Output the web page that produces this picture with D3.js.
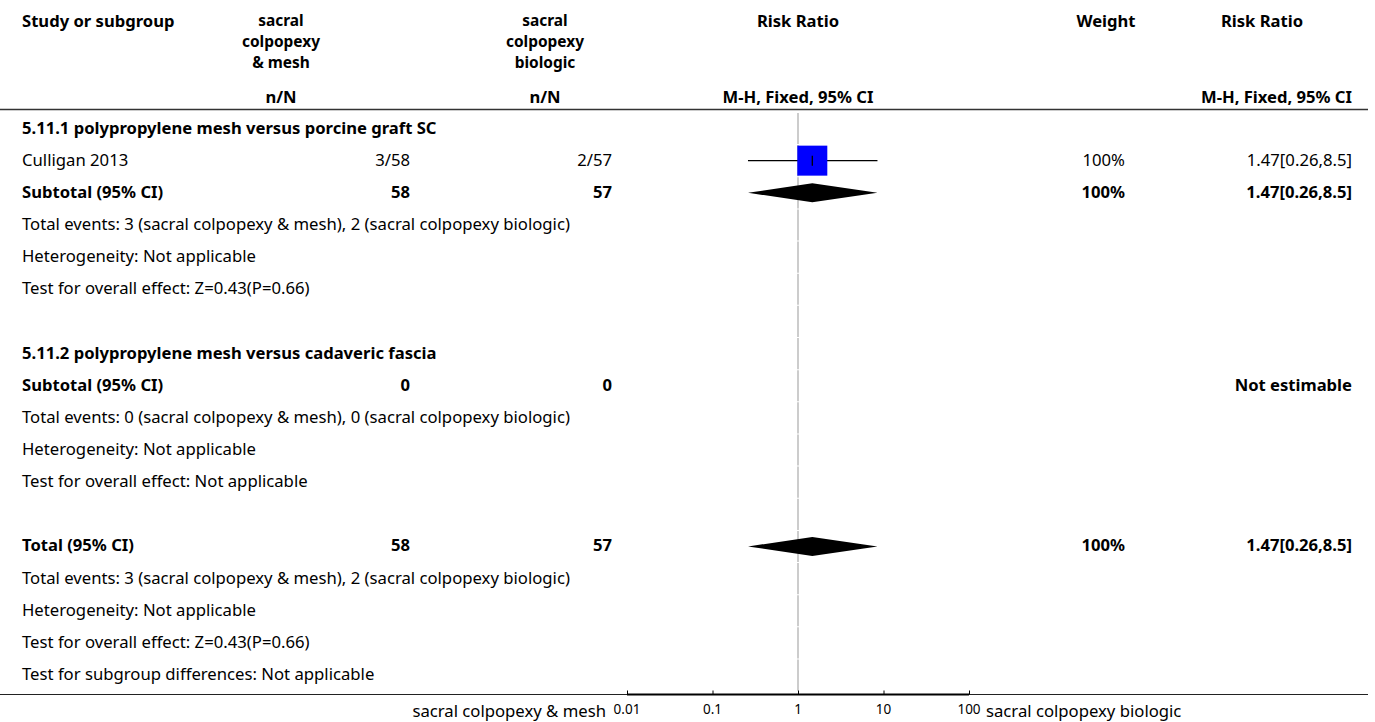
<!DOCTYPE html>
<html>
<head>
<meta charset="utf-8">
<script src="https://cdn.jsdelivr.net/npm/d3@7"></script>
<style>
  html, body { margin: 0; padding: 0; background: #fff; }
  svg { display: block; }
  text { font-family: "Noto Sans", Lato, sans-serif; fill: #000; }
</style>
</head>
<body>
<svg id="chart" width="1375" height="722"></svg>
<script>
// ---------------- data ----------------
const headerCol1 = ["sacral", "colpopexy", "& mesh"];
const headerCol2 = ["sacral", "colpopexy", "biologic"];
const groupLabels = ["sacral colpopexy & mesh", "sacral colpopexy biologic"];

const subgroupTitles = ["5.11.1 polypropylene mesh versus porcine graft SC",
                        "5.11.2 polypropylene mesh versus cadaveric fascia"];
const studyNames   = ["Culligan 2013"];
const studySubgroup = [0];
const expEvents    = [3];
const expTotal     = [58];
const ctrlEvents   = [2];
const ctrlTotal    = [57];
const studyRR      = [1.47];
const studyLow     = [0.26];
const studyHigh    = [8.5];
const studyWeight  = [100];

const subExpTotal  = [58, 0];
const subCtrlTotal = [57, 0];
const subExpEvents = [3, 0];
const subCtrlEvents= [2, 0];
const subRR        = [1.47, null];
const subLow       = [0.26, null];
const subHigh      = [8.5, null];
const subWeight    = [100, null];
const subEffect    = ["Z=0.43(P=0.66)", "Not applicable"];

const totalExp = 58, totalCtrl = 57, totalRR = 1.47, totalLow = 0.26, totalHigh = 8.5, totalWeight = 100;
const totalEffect = "Z=0.43(P=0.66)";

const axisTicks = [0.01, 0.1, 1, 10, 100];

// ---------------- layout ----------------
const svg = d3.select("#chart");
const x = d3.scaleLog().domain([0.01, 100]).range([627, 969]);
const y0 = 128.5, step = 32.15;
const rowY = i => y0 + i * step;
const fmtRR = (r, l, h) => `${r}[${l},${h}]`;

function fitSize(str, weight, target) {
  const t = svg.append("text").attr("font-size", 100).attr("font-weight", weight).text(str);
  const w = t.node().getComputedTextLength();
  t.remove();
  return 100 * target / w;
}
const FS = fitSize("Total events: 3 (sacral colpopexy & mesh), 2 (sacral colpopexy biologic)", "normal", 548);
const BFS = fitSize("5.11.1 polypropylene mesh versus porcine graft SC", "bold", 415);

// build rows
const rows = [];
subgroupTitles.forEach((t, g) => {
  rows.push({ label: t, bold: true });
  studyNames.forEach((s, i) => {
    if (studySubgroup[i] !== g) return;
    rows.push({ label: s, c1: `${expEvents[i]}/${expTotal[i]}`, c2: `${ctrlEvents[i]}/${ctrlTotal[i]}`,
      w: studyWeight[i] + "%", rr: fmtRR(studyRR[i], studyLow[i], studyHigh[i]),
      mark: { type: "square", est: studyRR[i], lo: studyLow[i], hi: studyHigh[i], wt: studyWeight[i] } });
  });
  rows.push({ label: "Subtotal (95% CI)", bold: true, c1: String(subExpTotal[g]), c2: String(subCtrlTotal[g]),
    w: subWeight[g] == null ? "" : subWeight[g] + "%",
    rr: subRR[g] == null ? "Not estimable" : fmtRR(subRR[g], subLow[g], subHigh[g]),
    mark: subRR[g] == null ? null : { type: "diamond", est: subRR[g], lo: subLow[g], hi: subHigh[g] } });
  rows.push({ label: `Total events: ${subExpEvents[g]} (${groupLabels[0]}), ${subCtrlEvents[g]} (${groupLabels[1]})` });
  rows.push({ label: "Heterogeneity: Not applicable" });
  rows.push({ label: "Test for overall effect: " + subEffect[g] });
  rows.push({ label: "" });
});
rows.push({ label: "Total (95% CI)", bold: true, c1: String(totalExp), c2: String(totalCtrl),
  w: totalWeight + "%", rr: fmtRR(totalRR, totalLow, totalHigh),
  mark: { type: "diamond", est: totalRR, lo: totalLow, hi: totalHigh } });
rows.push({ label: `Total events: ${subExpEvents[0]} (${groupLabels[0]}), ${subCtrlEvents[0]} (${groupLabels[1]})` });
rows.push({ label: "Heterogeneity: Not applicable" });
rows.push({ label: "Test for overall effect: " + totalEffect });
rows.push({ label: "Test for subgroup differences: Not applicable" });

// ---------------- header ----------------
const hdr = svg.append("g").attr("font-size", BFS).attr("font-weight", "bold");
hdr.append("text").attr("x", 22).attr("y", 27).text("Study or subgroup");
const stackFS = BFS * 0.93;
const stackGap = stackFS * 1.37;
headerCol1.forEach((t, i) => hdr.append("text").attr("x", 281).attr("y", 26 + i * stackGap)
  .attr("font-size", stackFS).attr("text-anchor", "middle").text(t));
headerCol2.forEach((t, i) => hdr.append("text").attr("x", 545).attr("y", 26 + i * stackGap)
  .attr("font-size", stackFS).attr("text-anchor", "middle").text(t));
hdr.append("text").attr("x", 281).attr("y", 103).attr("text-anchor", "middle").text("n/N");
hdr.append("text").attr("x", 545).attr("y", 103).attr("text-anchor", "middle").text("n/N");
hdr.append("text").attr("x", 798).attr("y", 27).attr("text-anchor", "middle").text("Risk Ratio");
hdr.append("text").attr("x", 798).attr("y", 103).attr("text-anchor", "middle").text("M-H, Fixed, 95% CI");
hdr.append("text").attr("x", 1106).attr("y", 27).attr("text-anchor", "middle").text("Weight");
hdr.append("text").attr("x", 1262).attr("y", 27).attr("text-anchor", "middle").text("Risk Ratio");
hdr.append("text").attr("x", 1352).attr("y", 103).attr("text-anchor", "end").text("M-H, Fixed, 95% CI");

svg.append("line").attr("x1", 0).attr("x2", 1368).attr("y1", 109.5).attr("y2", 109.5)
  .attr("stroke", "#333").attr("stroke-width", 1.5);

// null line (segments per row)
const nullG = svg.append("g");
rows.forEach((r, i) => {
  nullG.append("line").attr("x1", x(1)).attr("x2", x(1))
    .attr("y1", rowY(i) - step / 2 + 0.5).attr("y2", rowY(i) + step / 2 - 0.5)
    .attr("stroke", "#aaa").attr("stroke-width", 1.2);
});

// ---------------- rows ----------------
const body = svg.append("g");
rows.forEach((r, i) => {
  const yy = rowY(i) + 5;
  const fw = r.bold ? "bold" : "normal";
  const fs = r.bold ? BFS : FS;
  const add = (xx, anchor, str) => body.append("text").attr("x", xx).attr("y", yy)
    .attr("text-anchor", anchor).attr("font-weight", fw).attr("font-size", fs).text(str);
  add(22, "start", r.label);
  if (r.c1 !== undefined) add(410, "end", r.c1);
  if (r.c2 !== undefined) add(612, "end", r.c2);
  if (r.w) add(1125, "end", r.w);
  if (r.rr) add(1352, "end", r.rr);

  const m = r.mark;
  if (!m) return;
  const cy = rowY(i);
  if (m.type === "square") {
    svg.append("line").attr("x1", x(m.lo)).attr("x2", x(m.hi)).attr("y1", cy).attr("y2", cy)
      .attr("stroke", "#000").attr("stroke-width", 1.3);
    const sz = 30 * Math.sqrt(m.wt / 100);
    svg.append("rect").attr("x", x(m.est) - sz / 2).attr("y", cy - sz / 2).attr("width", sz).attr("height", sz)
      .attr("fill", "#0000ff");
    svg.append("line").attr("x1", x(m.est)).attr("x2", x(m.est)).attr("y1", cy - 5).attr("y2", cy + 5)
      .attr("stroke", "#000").attr("stroke-width", 1.3);
  } else {
    const h = 9.5;
    svg.append("path").attr("d", `M${x(m.lo)},${cy} L${x(m.est)},${cy - h} L${x(m.hi)},${cy} L${x(m.est)},${cy + h} Z`)
      .attr("fill", "#000");
  }
});

// ---------------- axis ----------------
const axY = 694.5;
svg.append("line").attr("x1", 0).attr("x2", 1368).attr("y1", axY).attr("y2", axY)
  .attr("stroke", "#222").attr("stroke-width", 1.2);
const axisG = svg.append("g").attr("transform", `translate(0,${axY})`)
  .call(d3.axisTop(x).tickValues(axisTicks).tickSize(4).tickFormat(""));
axisG.select(".domain").attr("stroke", "#000").attr("stroke-width", 2).attr("d", `M${x(0.01)},0H${x(100)}`);
axisG.selectAll(".tick line").attr("stroke", "#000");
const tl = svg.append("g").attr("font-size", 13.5);
axisTicks.forEach(t => tl.append("text").attr("x", x(t)).attr("y", 714).attr("text-anchor", "middle").text(d3.format("~g")(t)));
svg.append("text").attr("x", 606).attr("y", 717).attr("text-anchor", "end").attr("font-size", FS).text(groupLabels[0]);
svg.append("text").attr("x", 986).attr("y", 717).attr("font-size", FS).text(groupLabels[1]);
</script>
</body>
</html>
